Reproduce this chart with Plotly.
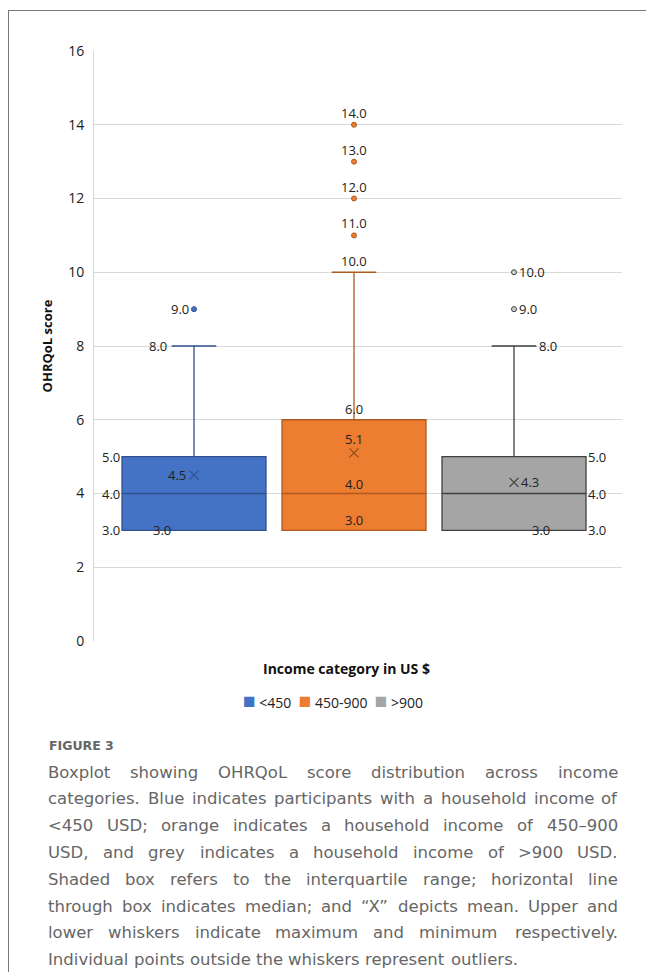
import struct
import subprocess
import plotly.graph_objects as go

categories = ["<450", "450-900", ">900"]
q1 = [3.0, 3.0, 3.0]
median = [4.0, 4.0, 4.0]
q3 = [5.0, 6.0, 5.0]
lower = [3.0, 3.0, 3.0]
upper = [8.0, 10.0, 8.0]
means = [4.5, 5.1, 4.3]
outliers = [[9.0], [11.0, 12.0, 13.0, 14.0], [9.0, 10.0]]
y_ticks = [0, 2, 4, 6, 8, 10, 12, 14, 16]

caption = [
    "Boxplot showing OHRQoL score distribution across income",
    "categories. Blue indicates participants with a household income of",
    "<450 USD; orange indicates a household income of 450\u2013900",
    "USD, and grey indicates a household income of >900 USD.",
    "Shaded box refers to the interquartile range; horizontal line",
    "through box indicates median; and \u201cX\u201d depicts mean. Upper and",
    "lower whiskers indicate maximum and minimum respectively.",
    "Individual points outside the whiskers represent outliers.",
]

fills = ["#4472C4", "#ED7D31", "#A5A5A5"]
edges = ["#2F528F", "#AE5A21", "#404040"]

W, H = 646, 972
L, R, T, B = 94, 24, 51, 331
pw, ph = W - L - R, H - T - B

def px(x):
    return (x - L) / pw

def py(y):
    return 1 - (y - T) / ph

# ---- text width measurement (for justified caption) ----
CAP_FONT = "DejaVu Sans"
CAP_SIZE = 16.5

def load_widths(family):
    try:
        path = subprocess.run(["fc-match", "-f", "%{file}", family],
                              capture_output=True, text=True).stdout.strip()
        data = open(path, "rb").read()
        num = struct.unpack(">H", data[4:6])[0]
        tabs = {}
        for k in range(num):
            tag, _, off, ln = struct.unpack(">4sIII", data[12 + 16 * k:28 + 16 * k])
            tabs[tag.decode("latin1")] = off
        upem = struct.unpack(">H", data[tabs["head"] + 18:tabs["head"] + 20])[0]
        nhm = struct.unpack(">H", data[tabs["hhea"] + 34:tabs["hhea"] + 36])[0]
        hm = tabs["hmtx"]
        adv = [struct.unpack(">H", data[hm + 4 * k:hm + 4 * k + 2])[0] for k in range(nhm)]
        c = tabs["cmap"]
        nt = struct.unpack(">H", data[c + 2:c + 4])[0]
        cmap = {}
        for k in range(nt):
            pid, eid, off = struct.unpack(">HHI", data[c + 4 + 8 * k:c + 12 + 8 * k])
            so = c + off
            fmt = struct.unpack(">H", data[so:so + 2])[0]
            if fmt == 4 and pid == 3:
                seg = struct.unpack(">H", data[so + 6:so + 8])[0] // 2
                ends = struct.unpack(">%dH" % seg, data[so + 14:so + 14 + 2 * seg])
                p = so + 16 + 2 * seg
                starts = struct.unpack(">%dH" % seg, data[p:p + 2 * seg])
                p2 = p + 2 * seg
                deltas = struct.unpack(">%dh" % seg, data[p2:p2 + 2 * seg])
                p3 = p2 + 2 * seg
                ros = struct.unpack(">%dH" % seg, data[p3:p3 + 2 * seg])
                for s in range(seg):
                    for ch in range(starts[s], min(ends[s], 0x2100) + 1):
                        if ros[s] == 0:
                            g = (ch + deltas[s]) & 0xFFFF
                        else:
                            ga = p3 + 2 * s + ros[s] + 2 * (ch - starts[s])
                            g = struct.unpack(">H", data[ga:ga + 2])[0]
                            if g:
                                g = (g + deltas[s]) & 0xFFFF
                        cmap[ch] = g
                break
        def w(ch):
            g = cmap.get(ord(ch), 0)
            return adv[min(g, nhm - 1)] / upem
        return w
    except Exception:
        return lambda ch: 0.32 if ch == " " else 0.6

cw = load_widths(CAP_FONT)

def text_w(s, size):
    return sum(cw(ch) for ch in s) * size

def esc(s):
    return s.replace("<", "&lt;").replace(">", "&gt;")

fig = go.Figure()
for i, c in enumerate(categories):
    fig.add_trace(go.Box(
        x=[i], q1=[q1[i]], median=[median[i]], q3=[q3[i]],
        lowerfence=[lower[i]], upperfence=[upper[i]],
        fillcolor=fills[i], line=dict(color=edges[i], width=1.3),
        width=0.9, whiskerwidth=0.31, boxpoints=False, showlegend=False,
        hoverinfo="skip"))
    fig.add_trace(go.Scatter(
        x=[i] * len(outliers[i]), y=outliers[i], mode="markers",
        marker=dict(size=5, color=fills[i] if i < 2 else "#d0d0d0",
                    line=dict(color=edges[i], width=1)),
        showlegend=False, hoverinfo="skip"))
    fig.add_trace(go.Scatter(
        x=[i], y=[means[i]], mode="markers",
        marker=dict(symbol="x-thin", size=9,
                    line=dict(color=edges[i] if i != 1 else "#8a4a1e", width=1.2)),
        showlegend=False, hoverinfo="skip"))

lab_font = dict(family="Open Sans, sans-serif", size=13, color="#222")

def lab(x, y, text, xanchor="center", xshift=0, yshift=0):
    fig.add_annotation(x=x, y=y, text=text, showarrow=False, xanchor=xanchor,
                       yanchor="middle", xshift=xshift, yshift=yshift, font=lab_font)

f = lambda v: f"{v:.1f}"
# blue (labels to the left)
i = 0
for v in outliers[i]:
    lab(i, v, f(v), "right", -3)
lab(i, upper[i], f(upper[i]), "right", -25)
lab(i, q3[i], f(q3[i]), "right", -72)
lab(i, median[i], f(median[i]), "right", -72)
lab(i, q1[i], f(q1[i]), "right", -72)
lab(i, lower[i], f(lower[i]), "center", -32)
lab(i, means[i], f(means[i]), "right", -6)
# orange (labels above)
i = 1
for v in outliers[i]:
    lab(i, v, f(v), "center", 0, 12)
lab(i, upper[i], f(upper[i]), "center", 0, 11)
lab(i, q3[i], f(q3[i]), "center", 0, 11)
lab(i, means[i], f(means[i]), "center", 0, 14)
lab(i, median[i], f(median[i]), "center", 0, 10)
lab(i, q1[i], f(q1[i]), "center", 0, 10)
# grey (labels to the right)
i = 2
for v in outliers[i]:
    lab(i, v, f(v), "left", 3)
lab(i, upper[i], f(upper[i]), "left", 23)
lab(i, q3[i], f(q3[i]), "left", 72)
lab(i, median[i], f(median[i]), "left", 72)
lab(i, q1[i], f(q1[i]), "left", 72)
lab(i, lower[i], f(lower[i]), "center", 27)
lab(i, means[i], f(means[i]), "left", 5)

fig.update_layout(
    width=W, height=H, margin=dict(l=L, r=R, t=T, b=B, autoexpand=False),
    paper_bgcolor="white", plot_bgcolor="white",
    font=dict(family="Open Sans, sans-serif", color="#222"),
    xaxis=dict(range=[-0.625, 2.675], showticklabels=False, showgrid=False,
               zeroline=False, showline=False, ticks=""),
    yaxis=dict(range=[0, 16], tickvals=y_ticks, showgrid=True, gridcolor="#d9d9d9",
               gridwidth=1, zeroline=False, showline=True, linecolor="#d9d9d9",
               linewidth=1, tickfont=dict(size=14, color="#222"), ticklabelstandoff=6,
               title=dict(text="<b>OHRQoL score</b>", font=dict(size=13, color="#111"),
                          standoff=12)),
    showlegend=False,
)

fig.add_annotation(xref="paper", yref="paper", x=px(346), y=py(668),
                   text="<b>Income category in US $</b>",
                   showarrow=False, font=dict(size=14, color="#111"),
                   xanchor="center", yanchor="middle")

# legend row
leg = "&nbsp;&nbsp;".join(
    f'<span style="color:{fills[k]};font-size:21px">\u25A0</span> {esc(c)}'
    for k, c in enumerate(categories))
fig.add_annotation(xref="paper", yref="paper", x=px(333), y=py(700), text=leg,
                   showarrow=False, xanchor="center", yanchor="middle",
                   font=dict(size=14, color="#222"))

# frame lines
fig.add_shape(type="line", xref="paper", yref="paper", x0=px(8), x1=px(646), y0=py(10.5), y1=py(10.5),
              line=dict(color="#777", width=1))
fig.add_shape(type="line", xref="paper", yref="paper", x0=px(8.5), x1=px(8.5), y0=py(10), y1=py(972),
              line=dict(color="#777", width=1))

fig.add_annotation(xref="paper", yref="paper", x=px(47), y=py(745), text="FIGURE 3",
                   showarrow=False, xanchor="left", yanchor="middle",
                   font=dict(family=CAP_FONT, size=12.5, color="#666", weight=600))

# justified caption, word by word
X0, X1 = 48, 618
for k, line in enumerate(caption):
    yk = py(772 + k * 26.8)
    words = line.split(" ")
    last = k == len(caption) - 1
    widths = [text_w(wd, CAP_SIZE) for wd in words]
    space = text_w(" ", CAP_SIZE)
    gap = space if last or len(words) < 2 else (X1 - X0 - sum(widths)) / (len(words) - 1)
    x = X0
    for j, wd in enumerate(words):
        if not last and j == len(words) - 1:
            xa, xpos = "right", X1
        else:
            xa, xpos = "left", x
        fig.add_annotation(xref="paper", yref="paper", x=px(xpos), y=yk, text=esc(wd),
                           showarrow=False, xanchor=xa, yanchor="middle",
                           borderpad=0, borderwidth=0,
                           font=dict(family=CAP_FONT, size=CAP_SIZE, color="#666"))
        x += widths[j] + gap

fig.write_html("out.html", config={"displayModeBar": False},
               post_script="document.body.style.margin='0';")
